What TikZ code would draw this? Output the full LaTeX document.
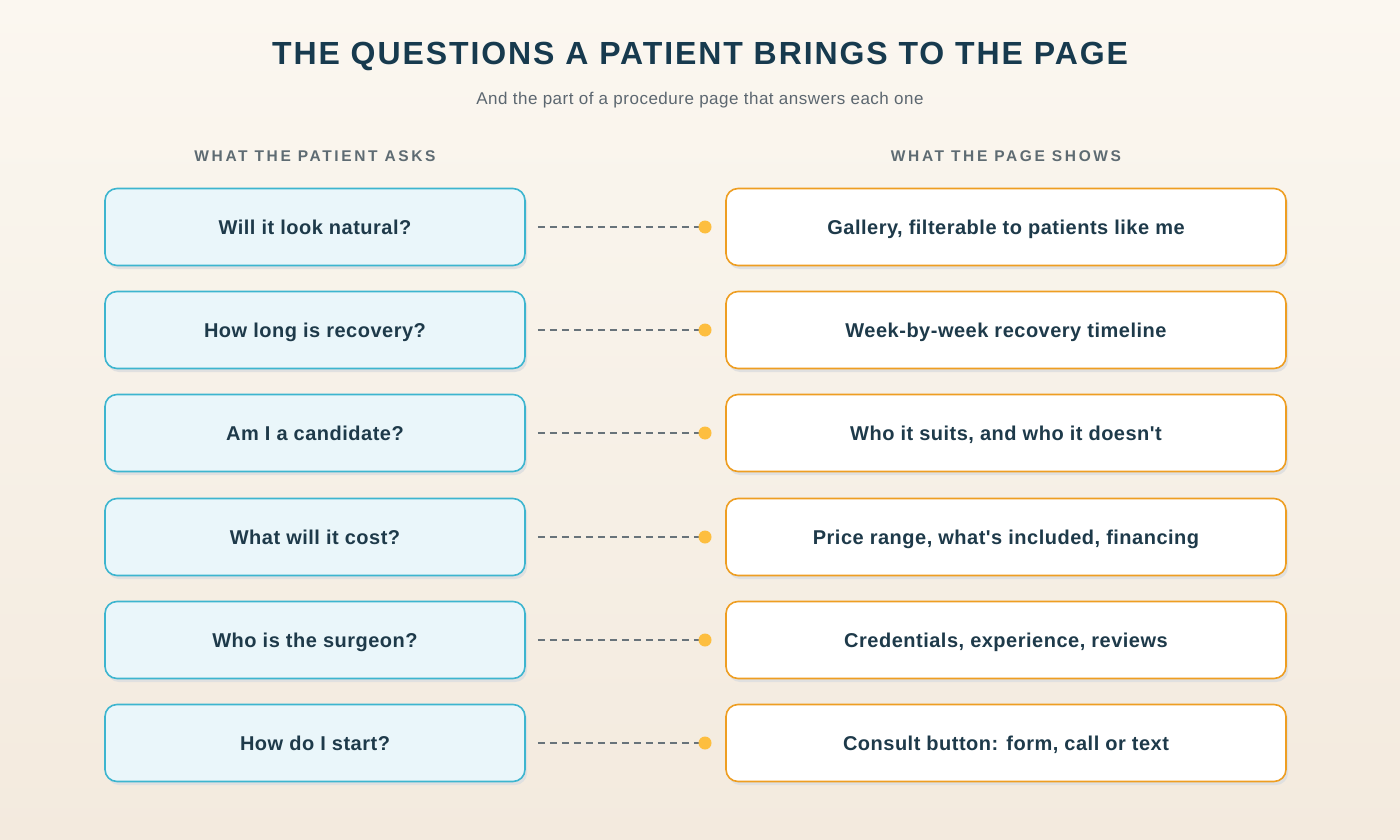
\documentclass[tikz,border=0pt]{standalone}
\usepackage{fontspec}
\setmainfont{Liberation Sans}[Ligatures=TeXOff]
\usetikzlibrary{calc}
\definecolor{bgtop}{HTML}{FBF7F0}
\definecolor{bgbot}{HTML}{F3EADE}
\definecolor{titlec}{HTML}{173A4E}
\definecolor{subc}{HTML}{5C6770}
\definecolor{headc}{HTML}{5E6B72}
\definecolor{txtc}{HTML}{1E3A4A}
\definecolor{qfill}{HTML}{EAF6FA}
\definecolor{qdraw}{HTML}{3DB5CF}
\definecolor{adraw}{HTML}{EE9E22}
\definecolor{dotc}{HTML}{FDBE3F}
\definecolor{dashc}{HTML}{68737A}
\begin{document}
\begin{tikzpicture}[x=1pt,y=-1pt,
  box/.style={rounded corners=12pt,line width=1.6pt,minimum height=77pt,text height=14pt,text depth=0pt,font=\fontsize{20}{23}\selectfont\bfseries\addfontfeatures{LetterSpace=2.5},text=txtc},
  q/.style={box,fill=qfill,draw=qdraw,minimum width=420pt},
  a/.style={box,fill=white,draw=adraw,minimum width=560pt},
  link/.style={draw=dashc,line width=1.6pt,dash pattern=on 7pt off 5pt},
  dot/.style={circle,fill=dotc,inner sep=0pt,minimum size=13pt}]
\shade[top color=bgtop,bottom color=bgbot] (0,0) rectangle (1400,840);
\useasboundingbox (0,0) rectangle (1400,840);
\node[font=\fontsize{32}{37}\selectfont\bfseries\addfontfeatures{LetterSpace=6},text=titlec] (t) at (700,56) {THE QUESTIONS A PATIENT BRINGS TO THE PAGE};
\node[font=\fontsize{17}{20}\selectfont\addfontfeatures{LetterSpace=3},text=subc] (s) at (700,100) {And the part of a procedure page that answers each one};
\node[font=\fontsize{15.5}{18}\selectfont\bfseries\addfontfeatures{LetterSpace=17},text=headc] (h1) at (315,156) {WHAT THE PATIENT ASKS};
\node[font=\fontsize{15.5}{18}\selectfont\bfseries\addfontfeatures{LetterSpace=17},text=headc] (h2) at (1006,156) {WHAT THE PAGE SHOWS};
\foreach \i/\y/\qq/\aa in {1/227/{Will it look natural?}/{Gallery, filterable to patients like me},
  2/330/{How long is recovery?}/{Week-by-week recovery timeline},
  3/433/{Am I a candidate?}/{Who it suits, and who it doesn't},
  4/537/{What will it cost?}/{Price range, what's included, financing},
  5/640/{Who is the surgeon?}/{Credentials, experience, reviews},
  6/743/{How do I start?}/{Consult button: form, call or text}}{
  \fill[black!12,rounded corners=12pt] (107,\y-36) rectangle (527,\y+42);
  \fill[black!12,rounded corners=12pt] (728,\y-36) rectangle (1288,\y+42);
  \node[q] (q\i) at (315,\y) {\qq};
  \node[a] (a\i) at (1006,\y) {\aa};
  \coordinate (e\i) at (705,\y);
  \draw[link] ($(q\i.east)+(12,0)$) -- (e\i);
  \node[dot] (d\i) at (e\i) {};
}
\end{tikzpicture}
\end{document}
